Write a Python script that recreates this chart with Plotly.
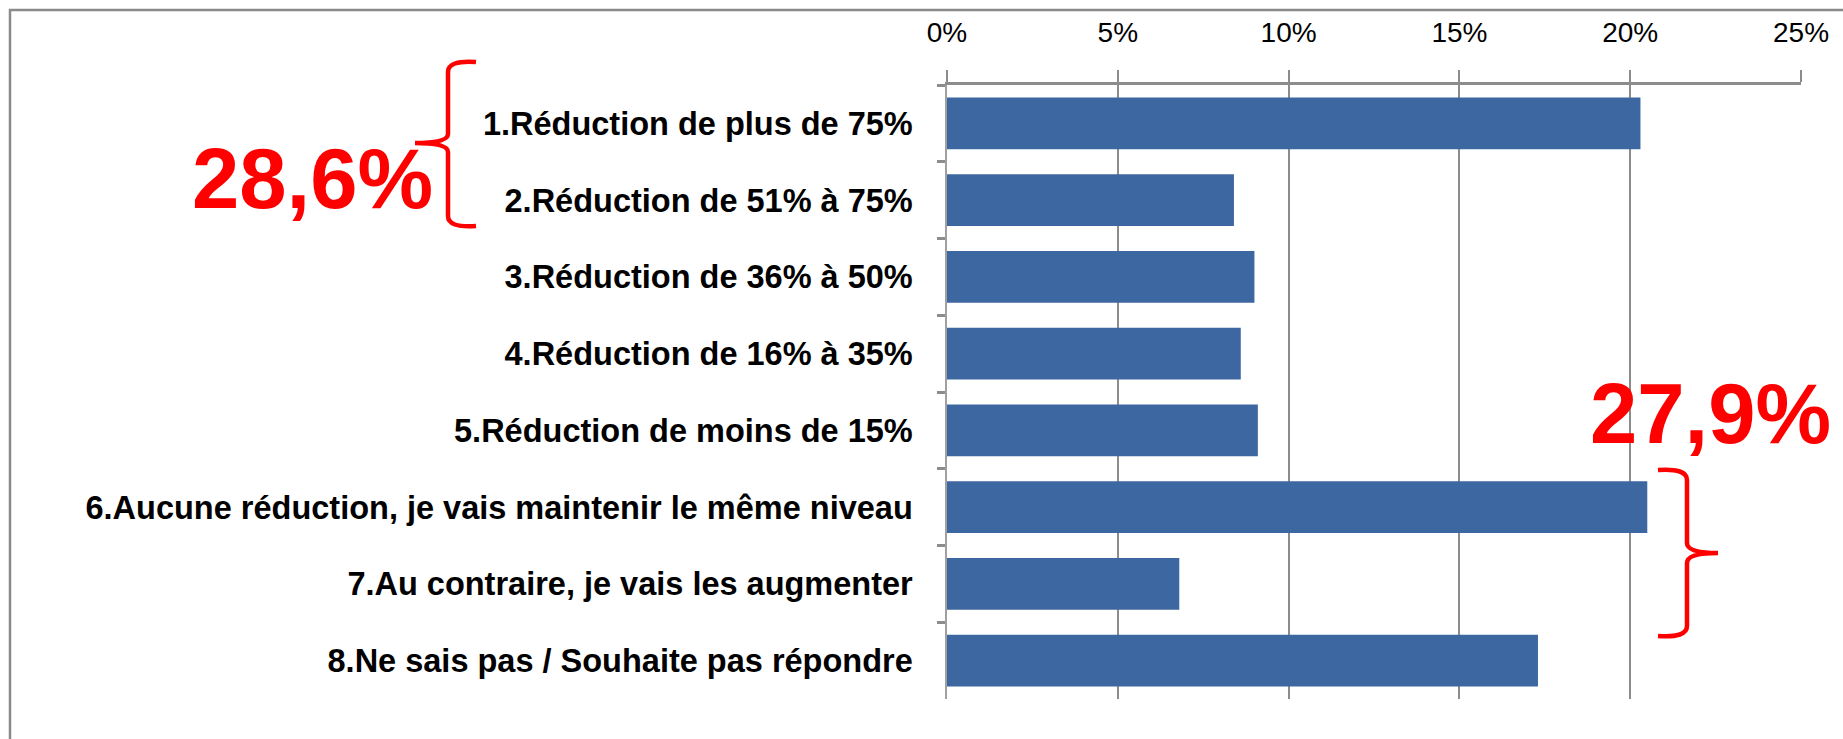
import plotly.graph_objects as go

# ---- data ----
categories = [
    "1.Réduction de plus de 75%",
    "2.Réduction de 51% à 75%",
    "3.Réduction de 36% à 50%",
    "4.Réduction de 16% à 35%",
    "5.Réduction de moins de 15%",
    "6.Aucune réduction, je vais maintenir le même niveau",
    "7.Au contraire, je vais les augmenter",
    "8.Ne sais pas / Souhaite pas répondre",
]
values = [20.3, 8.4, 9.0, 8.6, 9.1, 20.5, 6.8, 17.3]
x_ticks = [0, 5, 10, 15, 20, 25]
x_tick_labels = ["0%", "5%", "10%", "15%", "20%", "25%"]
group_labels = ["28,6%", "27,9%"]

W, H = 1843, 739
ML, MR, MT, MB = 947, 42, 85, 40
PW, PH = W - ML - MR, H - MT - MB


def px(x):
    return (x - ML) / PW


def py(y):
    return 1 - (y - MT) / PH


fig = go.Figure()
fig.add_trace(go.Bar(
    x=values, y=categories, orientation="h",
    marker=dict(color="#3c67a0", line=dict(width=0)),
    width=0.675, hoverinfo="x+y",
))

FONT = "Liberation Sans, Arial, sans-serif"

fig.update_layout(
    width=W, height=H,
    margin=dict(l=ML, r=MR, t=MT, b=MB, pad=0),
    paper_bgcolor="white", plot_bgcolor="white",
    showlegend=False,
    font=dict(family=FONT, color="black"),
    xaxis=dict(
        side="top", range=[0, 25], tickmode="array",
        tickvals=x_ticks, ticktext=x_tick_labels,
        showgrid=True, gridcolor="#8c8c8c", gridwidth=1.5,
        showline=True, linecolor="#8c8c8c", linewidth=3,
        ticks="outside", ticklen=12, tickwidth=1.5, tickcolor="#8c8c8c",
        tickfont=dict(size=28, family=FONT), ticklabelstandoff=17,
        zeroline=False, fixedrange=True,
    ),
    yaxis=dict(
        categoryorder="array", categoryarray=categories,
        range=[7.5, -0.5],
        showline=True, linecolor="#a0a0a0", linewidth=1.5,
        ticks="outside", ticklen=8, tickwidth=3, tickcolor="#8c8c8c",
        tickson="boundaries", showgrid=False,
        tickfont=dict(size=32.5, family=FONT, weight="bold"),
        ticklabelstandoff=26, fixedrange=True,
    ),
)

# outer frame
fig.add_shape(type="rect", xref="paper", yref="paper",
              x0=px(10), y0=py(10), x1=px(1900), y1=py(800),
              line=dict(color="#8a8a8a", width=2.5), layer="below")

# left brace "{"
lb = (f"M {px(476)},{py(62)} Q {px(448)},{py(60)} {px(448)},{py(72)} "
      f"L {px(448)},{py(134)} Q {px(448)},{py(143)} {px(415)},{py(143)} "
      f"Q {px(448)},{py(143)} {px(448)},{py(152)} "
      f"L {px(448)},{py(216)} Q {px(448)},{py(228)} {px(476)},{py(226)}")
fig.add_shape(type="path", xref="paper", yref="paper", path=lb,
              line=dict(color="#ff0000", width=4.5))

# right brace "}"
rb = (f"M {px(1658)},{py(470)} Q {px(1687)},{py(468)} {px(1687)},{py(480)} "
      f"L {px(1687)},{py(543)} Q {px(1687)},{py(553)} {px(1718)},{py(553)} "
      f"Q {px(1687)},{py(553)} {px(1687)},{py(563)} "
      f"L {px(1687)},{py(626)} Q {px(1687)},{py(638)} {px(1658)},{py(636)}")
fig.add_shape(type="path", xref="paper", yref="paper", path=rb,
              line=dict(color="#ff0000", width=4.5))

fig.add_annotation(text=group_labels[0], xref="paper", yref="paper",
                   x=px(312), y=py(178), xanchor="center", yanchor="middle",
                   showarrow=False,
                   font=dict(size=85, color="#ff0000", family=FONT, weight="bold"))
fig.add_annotation(text=group_labels[1], xref="paper", yref="paper",
                   x=px(1710), y=py(413), xanchor="center", yanchor="middle",
                   showarrow=False,
                   font=dict(size=85, color="#ff0000", family=FONT, weight="bold"))

fig.write_html("out.html", config={"displayModeBar": False},
               post_script="document.body.style.margin='0';document.body.style.overflow='hidden';")
